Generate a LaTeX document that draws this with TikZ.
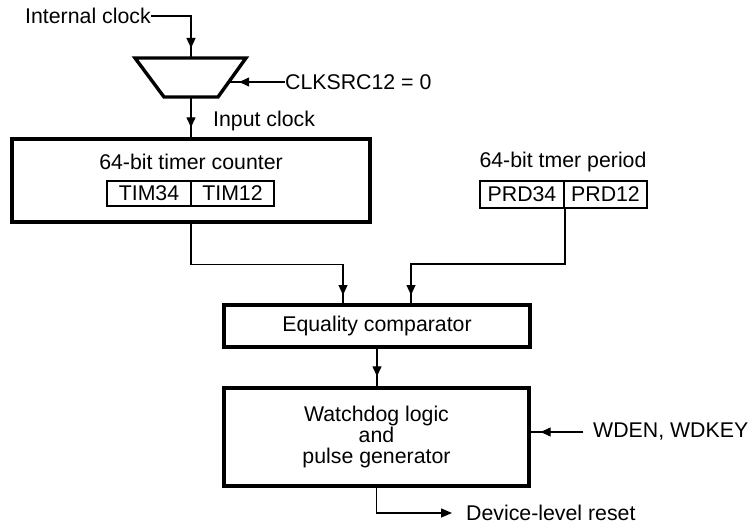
\documentclass[tikz,border=0pt]{standalone}
\usepackage{fontspec}
\setmainfont{Liberation Sans}
\usetikzlibrary{arrows.meta,calc}
\begin{document}
\begin{tikzpicture}[x=1pt,y=-1pt,
  font=\fontsize{21.3}{21}\selectfont,
  conn/.style={line width=1.3pt},
  arr/.style={conn, postaction={draw, line width=1.3pt, -{Triangle[length=10pt,width=9pt]}, shorten >=10pt}},
  endarr/.style={conn, -{Triangle[length=11pt,width=9pt]}},
  bigbox/.style={draw, line width=3.4pt, rectangle, inner sep=0pt, line join=miter},
  regbox/.style={draw, line width=2pt, rectangle, inner sep=0pt},
  lbl/.style={inner sep=0pt}
]
\useasboundingbox (0,0) rectangle (749,529);

% clock selection
\node[lbl, anchor=west] (intclk) at (25,16) {Internal clock};
\coordinate (mtl) at (135,58);
\coordinate (mtr) at (246,58);
\coordinate (mbr) at (218,97);
\coordinate (mbl) at (164,97);
\coordinate (muxtop) at (191,58);
\coordinate (muxbot) at (191,97);
\coordinate (muxright) at ($(mtr)!0.6!(mbr)$);
\draw[line width=3.4pt, line join=miter] (mtl) -- (mtr) -- (mbr) -- (mbl) -- cycle;
\draw[arr] (intclk.east) -| (muxtop);
\node[lbl, anchor=west] (clksrc) at (285,82) {CLKSRC12 = 0};
\draw[arr] (clksrc.west) -- (clksrc.west -| muxright);
\node[lbl, anchor=west] (inclk) at (213,121) {Input clock};

% timer counter
\node[bigbox, minimum width=358pt, minimum height=83pt] (timer) at (191,180.5) {};
\node[lbl] (timertxt) at (191,162) {64-bit timer counter};
\node[regbox, minimum width=84pt, minimum height=25pt] (tim34) at (149,193.5) {TIM34};
\node[regbox, minimum width=83pt, minimum height=25pt] (tim12) at (232.5,193.5) {TIM12};
\draw[arr] (muxbot) -- (timer.north);

% period
\node[lbl] (prdtxt) at (563,162) {64-bit tmer period};
\node[regbox, minimum width=84pt, minimum height=27pt] (prd34) at (522,194.5) {PRD34};
\node[regbox, minimum width=83pt, minimum height=27pt] (prd12) at (605.5,194.5) {PRD12};

% comparator
\node[bigbox, minimum width=306pt, minimum height=42pt] (comp) at (377,326) {Equality comparator};
\coordinate (cin1) at (343,305);
\coordinate (cin2) at (411,305);
\draw[arr] (timer.south) -- ++(0,41) -| (cin1);
\draw[arr] (prd34.south east) -- ++(0,55) -| (cin2);

% watchdog
\node[bigbox, minimum width=305pt, minimum height=98pt, align=center] (wd) at (376.5,437) {Watchdog logic\\and\\pulse generator};
\draw[arr] (comp.south) -- (comp.south |- wd.north);
\node[lbl, anchor=west] (wden) at (593,432) {WDEN, WDKEY};
\coordinate (wdenstart) at ([xshift=-10pt]wden.west);
\draw[arr] (wdenstart) -- (wdenstart -| wd.east);
\node[lbl, anchor=west] (reset) at (466,513) {Device-level reset};
\draw[endarr] (wd.south) |- ([xshift=-14pt]reset.west);
\end{tikzpicture}
\end{document}
